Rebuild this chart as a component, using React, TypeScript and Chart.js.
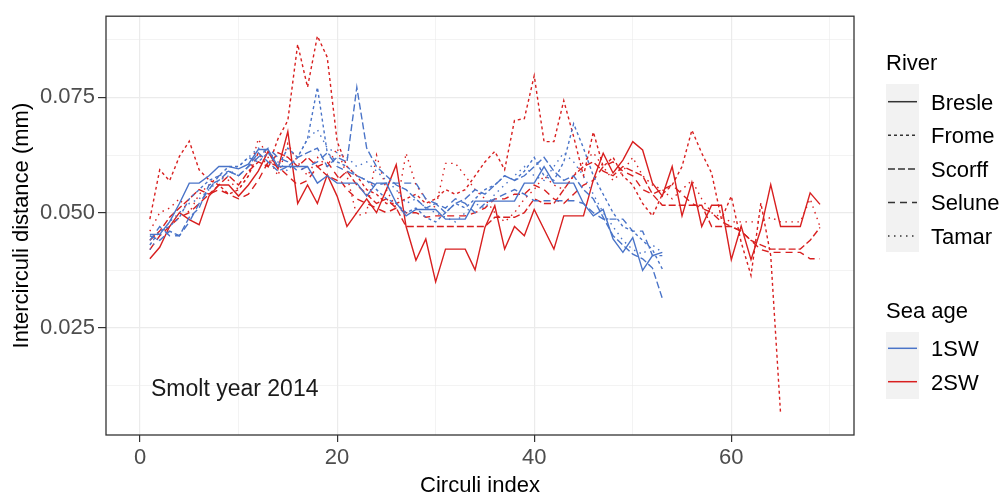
import React, { useEffect, useRef } from "react";
import { Chart, registerables } from "chart.js";

Chart.register(...registerables);

// ---- Data (circuli index starts at 1) ----
const bresle1SW = [0.0453, 0.0453, 0.048, 0.052, 0.0564, 0.0564, 0.058, 0.060, 0.060, 0.0595,
  0.0605, 0.0637, 0.0637, 0.060, 0.060, 0.060, 0.060, 0.0564, 0.058, 0.0564,
  0.0564, 0.0564, 0.0536, 0.0564, 0.0564, 0.0521, 0.0493, 0.0507, 0.0507, 0.0507,
  0.0486, 0.0486, 0.0486, 0.0525, 0.0525, 0.0525, 0.0525, 0.0525, 0.0564, 0.0564,
  0.060, 0.0564, 0.0564, 0.0564, 0.052, 0.0493, 0.0507, 0.0443, 0.0414, 0.0446,
  0.0375, 0.0407, 0.0414];
const frome1SW = [0.043, 0.046, 0.047, 0.049, 0.053, 0.055, 0.057, 0.058, 0.060, 0.060,
  0.062, 0.061, 0.063, 0.060, 0.064, 0.062, 0.066, 0.0772, 0.063, 0.061,
  0.060, 0.058, 0.057, 0.055, 0.053, 0.052, 0.050, 0.051, 0.049, 0.048,
  0.050, 0.052, 0.051, 0.053, 0.055, 0.056, 0.058, 0.057, 0.059, 0.062,
  0.058, 0.057, 0.061, 0.0693, 0.064, 0.058, 0.054, 0.050, 0.047, 0.046,
  0.044, 0.042, 0.0378];
const scorff1SW = [0.045, 0.044, 0.046, 0.045, 0.049, 0.051, 0.056, 0.057, 0.059, 0.058,
  0.060, 0.063, 0.061, 0.059, 0.060, 0.062, 0.063, 0.064, 0.060, 0.062,
  0.061, 0.0772, 0.064, 0.060, 0.058, 0.056, 0.055, 0.053, 0.051, 0.052,
  0.050, 0.052, 0.053, 0.055, 0.054, 0.056, 0.058, 0.057, 0.058, 0.060,
  0.062, 0.059, 0.057, 0.058, 0.055, 0.053, 0.049, 0.045, 0.043, 0.041,
  0.040, 0.038, 0.0314];
const selune1SW = [0.044, 0.047, 0.045, 0.045, 0.048, 0.052, 0.055, 0.058, 0.059, 0.058,
  0.060, 0.062, 0.064, 0.062, 0.061, 0.059, 0.060, 0.061, 0.063, 0.060,
  0.059, 0.058, 0.057, 0.056, 0.0564, 0.0564, 0.0564, 0.0564, 0.053, 0.052,
  0.051, 0.053, 0.052, 0.050, 0.052, 0.053, 0.054, 0.055, 0.054, 0.0526,
  0.0526, 0.0526, 0.0526, 0.0526, 0.052, 0.050, 0.0486, 0.0486, 0.0486, 0.046,
  0.046, 0.0407, 0.0407];
const tamar1SW = [0.042, 0.045, 0.048, 0.050, 0.052, 0.053, 0.055, 0.057, 0.058, 0.060,
  0.062, 0.064, 0.063, 0.061, 0.059, 0.062, 0.066, 0.068, 0.064, 0.063,
  0.062, 0.060, 0.061, 0.059, 0.057, 0.055, 0.052, 0.053, 0.051, 0.050,
  0.049, 0.048, 0.050, 0.052, 0.051, 0.054, 0.056, 0.058, 0.060, 0.058,
  0.057, 0.060, 0.063, 0.061, 0.058, 0.054, 0.050, 0.047, 0.044, 0.042,
  0.041, 0.043, 0.0414];

const bresle2SW = [0.040, 0.0425, 0.047, 0.050, 0.0485, 0.0474, 0.0536, 0.056, 0.056, 0.0536,
  0.056, 0.059, 0.0633, 0.0595, 0.0676, 0.052, 0.056, 0.052, 0.0582, 0.0536,
  0.047, 0.050, 0.053, 0.050, 0.055, 0.0604, 0.047, 0.0397, 0.0443, 0.035,
  0.0421, 0.0421, 0.0421, 0.0376, 0.0468, 0.0515, 0.0421, 0.047, 0.045, 0.0507,
  0.0464, 0.0421, 0.0493, 0.0493, 0.0493, 0.0571, 0.0629, 0.0586, 0.0614, 0.0654,
  0.0636, 0.0564, 0.0536, 0.060, 0.0493, 0.0566, 0.047, 0.0516, 0.0516, 0.0398,
  0.0471, 0.0398, 0.0464, 0.0561, 0.047, 0.047, 0.047, 0.0543, 0.0518];
const frome2SW = [0.0486, 0.0593, 0.0569, 0.0622, 0.0655, 0.0593, 0.0571, 0.056, 0.054, 0.055,
  0.058, 0.063, 0.060, 0.066, 0.070, 0.0865, 0.0772, 0.0883, 0.0837, 0.0655,
  0.060, 0.058, 0.055, 0.054, 0.052, 0.052, 0.053, 0.054, 0.052, 0.053,
  0.055, 0.054, 0.055, 0.058, 0.061, 0.0633, 0.0593, 0.070, 0.0704, 0.0797,
  0.0654, 0.0654, 0.0743, 0.0665, 0.058, 0.0675, 0.060, 0.062, 0.058, 0.056,
  0.052, 0.0493, 0.054, 0.056, 0.060, 0.0679, 0.0629, 0.0586, 0.0486, 0.0536,
  0.0436, 0.0364, 0.0521, 0.0407, 0.0064];
const scorff2SW = [0.044, 0.046, 0.049, 0.051, 0.053, 0.055, 0.054, 0.056, 0.058, 0.056,
  0.059, 0.061, 0.060, 0.063, 0.062, 0.060, 0.062, 0.060, 0.058, 0.057,
  0.059, 0.056, 0.054, 0.052, 0.053, 0.051, 0.047, 0.047, 0.047, 0.047,
  0.047, 0.047, 0.047, 0.047, 0.047, 0.049, 0.049, 0.049, 0.050, 0.053,
  0.052, 0.052, 0.055, 0.058, 0.060, 0.061, 0.059, 0.058, 0.060, 0.059,
  0.058, 0.054, 0.0516, 0.0516, 0.0516, 0.0516, 0.0516, 0.047, 0.047, 0.047,
  0.046, 0.044, 0.043, 0.0421, 0.0421, 0.0421, 0.0421, 0.044, 0.0468];
const selune2SW = [0.042, 0.045, 0.047, 0.049, 0.050, 0.052, 0.054, 0.055, 0.054, 0.053,
  0.054, 0.057, 0.061, 0.060, 0.058, 0.056, 0.057, 0.060, 0.061, 0.058,
  0.055, 0.053, 0.052, 0.051, 0.050, 0.051, 0.050, 0.050, 0.049, 0.0493,
  0.0493, 0.0493, 0.0493, 0.050, 0.051, 0.053, 0.053, 0.054, 0.054, 0.056,
  0.055, 0.053, 0.052, 0.054, 0.056, 0.057, 0.060, 0.061, 0.059, 0.058,
  0.055, 0.054, 0.055, 0.056, 0.054, 0.052, 0.051, 0.050, 0.048, 0.047,
  0.046, 0.044, 0.042, 0.0414, 0.0414, 0.0414, 0.0414, 0.040, 0.040];
const tamar2SW = [0.046, 0.050, 0.051, 0.053, 0.050, 0.054, 0.056, 0.058, 0.057, 0.055,
  0.058, 0.066, 0.062, 0.058, 0.065, 0.061, 0.058, 0.062, 0.060, 0.064,
  0.058, 0.0493, 0.050, 0.0625, 0.055, 0.051, 0.0629, 0.056, 0.053, 0.051,
  0.0607, 0.0607, 0.058, 0.055, 0.053, 0.050, 0.048, 0.050, 0.053, 0.055,
  0.058, 0.056, 0.055, 0.058, 0.061, 0.063, 0.060, 0.057, 0.059, 0.062,
  0.058, 0.056, 0.055, 0.053, 0.055, 0.057, 0.053, 0.050, 0.049, 0.048,
  0.048, 0.048, 0.048, 0.049, 0.048, 0.048, 0.048, 0.053, 0.047];

const rivers = ["Bresle", "Frome", "Scorff", "Selune", "Tamar"];
const seaAges = ["1SW", "2SW"];
const yTicks = [0.0125, 0.025, 0.0375, 0.05, 0.0625, 0.075, 0.0875];
const yMajor = [0.025, 0.05, 0.075];
const xTicks = [0, 10, 20, 30, 40, 50, 60, 70];
const xMajor = [0, 20, 40, 60];
const annotationText = "Smolt year 2014";

const seriesTable: Record<string, number[]> = {
  "Bresle|1SW": bresle1SW, "Frome|1SW": frome1SW, "Scorff|1SW": scorff1SW,
  "Selune|1SW": selune1SW, "Tamar|1SW": tamar1SW,
  "Bresle|2SW": bresle2SW, "Frome|2SW": frome2SW, "Scorff|2SW": scorff2SW,
  "Selune|2SW": selune2SW, "Tamar|2SW": tamar2SW,
};

const ageColor: Record<string, string> = { "1SW": "#4a74c8", "2SW": "#d81f1f" };
const riverDash: Record<string, number[]> = {
  Bresle: [], Frome: [3, 3], Scorff: [7, 3], Selune: [7, 5], Tamar: [1.5, 4.5],
};
const riverDashSvg: Record<string, string> = {
  Bresle: "none", Frome: "3 3", Scorff: "7 3", Selune: "7 5", Tamar: "1.5 4.5",
};

const FONT = "'Liberation Sans', Arial, sans-serif";

const near = (v: number, arr: number[]) => arr.some((a) => Math.abs(a - v) < 1e-9);

const borderPlugin = {
  id: "panelBorder",
  afterDraw(chart: any) {
    const { ctx, chartArea } = chart;
    ctx.save();
    ctx.strokeStyle = "#333333";
    ctx.lineWidth = 1.3;
    ctx.strokeRect(chartArea.left, chartArea.top, chartArea.right - chartArea.left, chartArea.bottom - chartArea.top);
    ctx.restore();
  },
};

export default function App() {
  const canvasRef = useRef<HTMLCanvasElement | null>(null);

  useEffect(() => {
    if (!canvasRef.current) return;
    const datasets: any[] = [];
    seaAges.forEach((age) => {
      rivers.forEach((river) => {
        const vals = seriesTable[`${river}|${age}`];
        datasets.push({
          label: `${river} ${age}`,
          data: vals.map((v, i) => ({ x: i + 1, y: v })),
          borderColor: ageColor[age],
          borderWidth: 1.4,
          borderDash: riverDash[river],
          pointRadius: 0,
          tension: 0,
          fill: false,
        });
      });
    });

    const chart = new Chart(canvasRef.current, {
      type: "line",
      data: { datasets },
      options: {
        animation: false,
        responsive: false,
        devicePixelRatio: 1,
        events: [],
        layout: { padding: { top: 12, right: 149, left: 0, bottom: 0 } },
        plugins: { legend: { display: false }, tooltip: { enabled: false } },
        scales: {
          x: {
            type: "linear",
            min: -3.45,
            max: 72.45,
            afterBuildTicks: (scale: any) => { scale.ticks = xTicks.map((v) => ({ value: v })); },
            afterFit: (scale: any) => { scale.height = 62; },
            border: { display: false },
            grid: {
              color: "#ebebeb",
              lineWidth: (c: any) => (near(c.tick?.value, xMajor) ? 1.2 : 0.6),
              tickColor: (c: any) => (near(c.tick?.value, xMajor) ? "#333333" : "rgba(0,0,0,0)"),
              tickLength: 7,
              drawTicks: true,
            },
            ticks: {
              autoSkip: false,
              maxRotation: 0,
              padding: 3,
              color: "#4d4d4d",
              font: { family: FONT, size: 22, lineHeight: 1.2 },
              callback: (v: any) => (near(Number(v), xMajor) ? String(v) : ""),
            },
            title: {
              display: true,
              text: "Circuli index",
              color: "#000000",
              font: { family: FONT, size: 22, lineHeight: 1 },
              padding: { top: 0, bottom: 0 },
            },
          },
          y: {
            type: "linear",
            min: 0.0018,
            max: 0.0926,
            afterBuildTicks: (scale: any) => { scale.ticks = yTicks.map((v) => ({ value: v })); },
            afterFit: (scale: any) => { scale.width = 106; },
            border: { display: false },
            grid: {
              color: "#ebebeb",
              lineWidth: (c: any) => (near(c.tick?.value, yMajor) ? 1.2 : 0.6),
              tickColor: (c: any) => (near(c.tick?.value, yMajor) ? "#333333" : "rgba(0,0,0,0)"),
              tickLength: 8,
              drawTicks: true,
            },
            ticks: {
              autoSkip: false,
              padding: 3,
              color: "#4d4d4d",
              font: { family: FONT, size: 22, lineHeight: 1.2 },
              callback: (v: any) => (near(Number(v), yMajor) ? Number(v).toFixed(3) : ""),
            },
            title: {
              display: true,
              text: "Intercirculi distance (mm)",
              color: "#000000",
              font: { family: FONT, size: 22, lineHeight: 1 },
              padding: { top: 11, bottom: 0 },
            },
          },
        },
      },
      plugins: [borderPlugin],
    } as any);
    return () => chart.destroy();
  }, []);

  const textStyle = (left: number, centerY: number, size = 22): React.CSSProperties => ({
    position: "absolute",
    left,
    top: centerY - size * 0.6,
    height: size * 1.2,
    lineHeight: `${size * 1.2}px`,
    fontFamily: FONT,
    fontSize: size,
    color: "#000000",
    whiteSpace: "nowrap",
  });

  const riverY = rivers.map((_, i) => 101.7 + i * 33.6);
  const ageY = seaAges.map((_, i) => 348.3 + i * 33.4);

  return (
    <div style={{ position: "absolute", left: 0, top: 0, width: 1003, height: 497, background: "#ffffff" }}>
      <canvas ref={canvasRef} width={1003} height={497} style={{ position: "absolute", left: 0, top: 0, width: 1003, height: 497 }} />
      <svg width={1003} height={497} style={{ position: "absolute", left: 0, top: 0 }}>
        <rect x={886} y={84} width={33} height={168} fill="#f2f2f2" />
        {rivers.map((r, i) => (
          <line key={r} x1={888} x2={917} y1={riverY[i]} y2={riverY[i]} stroke="#333333" strokeWidth={1.5}
            strokeDasharray={riverDashSvg[r]} />
        ))}
        <rect x={886} y={332} width={33} height={67} fill="#f2f2f2" />
        {seaAges.map((a, i) => (
          <line key={a} x1={888} x2={917} y1={ageY[i]} y2={ageY[i]} stroke={ageColor[a]} strokeWidth={1.5} />
        ))}
      </svg>
      <div style={textStyle(886, 63)}>River</div>
      {rivers.map((r, i) => (
        <div key={r} style={textStyle(931, riverY[i] + 1)}>{r}</div>
      ))}
      <div style={textStyle(886, 311)}>Sea age</div>
      {seaAges.map((a, i) => (
        <div key={a} style={textStyle(931, ageY[i] + 1)}>{a}</div>
      ))}
      <div style={{ ...textStyle(151, 389, 23), color: "#1a1a1a" }}>{annotationText}</div>
    </div>
  );
}
